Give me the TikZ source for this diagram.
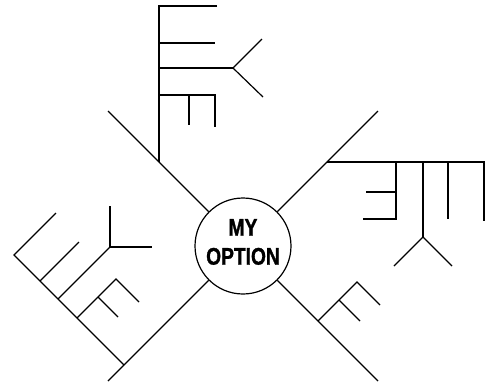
\documentclass[tikz,border=0pt]{standalone}
\usepackage{fontspec}
\newfontfamily\hubfont{Liberation Sans}[FakeStretch=0.8,FakeBold=1.2]
\usetikzlibrary{positioning}

\begin{document}
\begin{tikzpicture}[
  x=1pt, y=-1pt,
  bone/.style  ={draw=black, line width=1.2pt, line join=miter},
  hub/.style   ={draw=black, line width=1.2pt, circle, minimum size=96pt, inner sep=0pt},
  hubtxt/.style={font=\hubfont\bfseries\fontsize{24}{29}\selectfont, align=center, inner sep=0pt},
]
\useasboundingbox (0,0) rectangle (488,384);

% ============ Centre ============
\node[hub] (opt) at (243,246) {};
\node[hubtxt] (optname) at (243,242) {MY\\OPTION};

% ============ Four arms ============
\coordinate (tl) at (108,111);
\coordinate (tr) at (378,111);
\coordinate (bl) at (108,381);
\coordinate (br) at (378,381);
\foreach \c in {tl,tr,bl,br} {
  \draw[bone] (opt) -- (\c);
}

% ============ Top-left bones ============
\coordinate (tlRoot) at (159,162); \coordinate (tlTop) at (159,6);  \coordinate (tlA) at (217,6);
\coordinate (tlB0) at (159,43);    \coordinate (tlB) at (215,43);
\coordinate (tlC0) at (159,68);    \coordinate (tlC) at (233,68);
\coordinate (tlCu) at (262,39);    \coordinate (tlCd) at (263,97);
\coordinate (tlD0) at (159,95);    \coordinate (tlD) at (215,95);  \coordinate (tlDe) at (215,127);
\coordinate (tlDm) at (189,95);    \coordinate (tlDme) at (189,125);
\draw[bone] (tlA) -- (tlTop) -- (tlRoot);
\draw[bone] (tlB0) -- (tlB);
\draw[bone] (tlC0) -- (tlC);
\draw[bone] (tlCu) -- (tlC) -- (tlCd);
\draw[bone] (tlD0) -- (tlD) -- (tlDe);
\draw[bone] (tlDm) -- (tlDme);

% ============ Top-right bones ============
\coordinate (trRoot) at (327,162); \coordinate (trEnd) at (484,162); \coordinate (trEndd) at (484,221);
\coordinate (trA) at (396,162);    \coordinate (trAd) at (396,219);  \coordinate (trAl) at (363,219);
\coordinate (trAm) at (396,192);   \coordinate (trAml) at (366,192);
\coordinate (trB) at (423,162);    \coordinate (trBd) at (423,237);
\coordinate (trBl) at (394,266);   \coordinate (trBr) at (452,266);
\coordinate (trC) at (448,162);    \coordinate (trCd) at (448,219);
\draw[bone] (trRoot) -- (trEnd) -- (trEndd);
\draw[bone] (trA) -- (trAd) -- (trAl);
\draw[bone] (trAm) -- (trAml);
\draw[bone] (trB) -- (trBd);
\draw[bone] (trBl) -- (trBd) -- (trBr);
\draw[bone] (trC) -- (trCd);

% ============ Bottom-right bones ============
\coordinate (brRoot) at (318,321); \coordinate (brA) at (357,282); \coordinate (brAe) at (380,305);
\coordinate (brM) at (339,300);    \coordinate (brMe) at (360,321);
\draw[bone] (brRoot) -- (brA) -- (brAe);
\draw[bone] (brM) -- (brMe);

% ============ Bottom-left bones ============
\coordinate (blRoot) at (124,365); \coordinate (blTop) at (14,255); \coordinate (blA) at (56,213);
\coordinate (blB0) at (40,281);    \coordinate (blB) at (79,242);
\coordinate (blC0) at (58,299);    \coordinate (blC) at (110,247);
\coordinate (blCu) at (110,206);   \coordinate (blCr) at (152,247);
\coordinate (blD0) at (77,318);    \coordinate (blD) at (116,279); \coordinate (blDe) at (139,302);
\coordinate (blDm) at (98,297);    \coordinate (blDme) at (118,317);
\draw[bone] (blA) -- (blTop) -- (blRoot);
\draw[bone] (blB0) -- (blB);
\draw[bone] (blC0) -- (blC);
\draw[bone] (blCu) -- (blC) -- (blCr);
\draw[bone] (blD0) -- (blD) -- (blDe);
\draw[bone] (blDm) -- (blDme);

\end{tikzpicture}
\end{document}
